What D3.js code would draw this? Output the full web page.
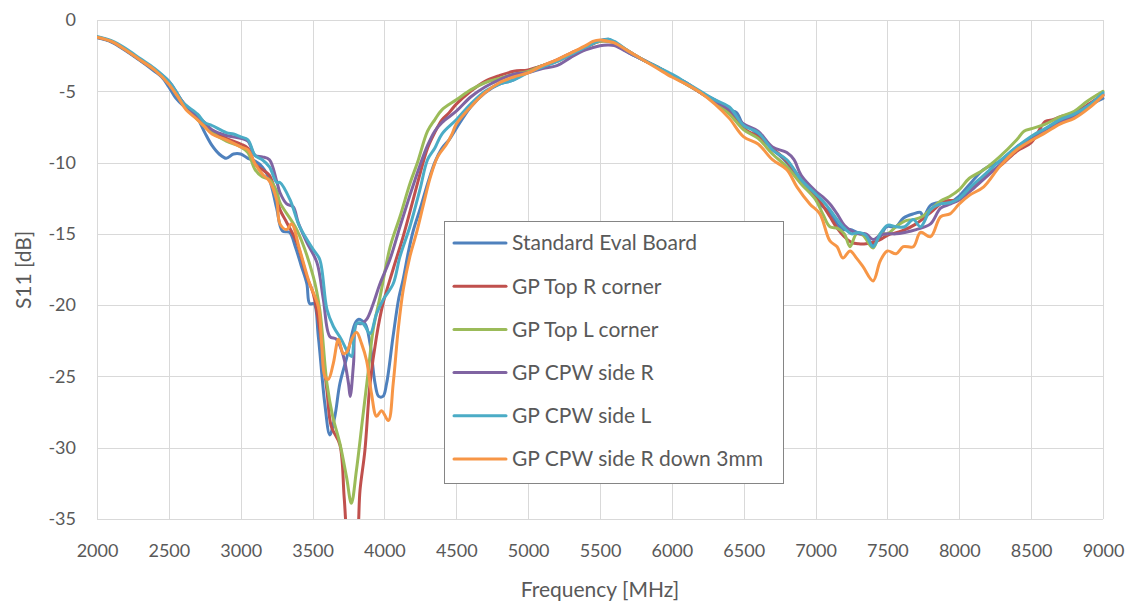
<!DOCTYPE html>
<html>
<head>
<meta charset="utf-8">
<script src="https://cdn.jsdelivr.net/npm/d3@7/dist/d3.min.js"></script>
<style>
html,body{margin:0;padding:0;background:#fff;}
svg{display:block;}
text{font-family:Lato,"Open Sans",sans-serif;fill:#595959;}
</style>
</head>
<body>
<svg id="chart" width="1132" height="608"></svg>
<script>
const seriesNames = ["Standard Eval Board","GP Top R corner","GP Top L corner","GP CPW side R","GP CPW side L","GP CPW side R down 3mm"];
const seriesColors = ["#4F81BD","#C0504D","#9BBB59","#8064A2","#4BACC6","#F79646"];
const xTicks = [2000,2500,3000,3500,4000,4500,5000,5500,6000,6500,7000,7500,8000,8500,9000];
const yTicks = [0,-5,-10,-15,-20,-25,-30,-35];

const standardEval = [[2000,-1.25],[2100,-1.55],[2200,-2.15],[2300,-2.85],[2400,-3.6],[2450,-4.0],[2500,-4.7],[2550,-5.5],[2600,-6.0],[2650,-6.3],[2700,-6.9],[2750,-7.9],[2800,-8.8],[2850,-9.4],[2900,-9.7],[2950,-9.4],[3000,-9.4],[3050,-9.7],[3100,-9.9],[3150,-10.3],[3200,-11.2],[3250,-13.2],[3290,-14.8],[3340,-14.9],[3380,-15.9],[3420,-17.2],[3460,-18.5],[3480,-19.9],[3510,-19.9],[3540,-22.2],[3585,-26.9],[3620,-29.1],[3655,-27.8],[3690,-25.5],[3740,-23.6],[3795,-21.3],[3818,-21.0],[3865,-21.3],[3900,-22.7],[3935,-25.5],[3960,-26.4],[3990,-26.4],[4015,-25.5],[4060,-22.2],[4100,-19.5],[4130,-18.2],[4166,-16.3],[4200,-14.8],[4250,-13.2],[4300,-11.5],[4350,-10.0],[4400,-9.0],[4450,-8.4],[4500,-7.6],[4600,-6.1],[4700,-5.1],[4800,-4.5],[4900,-4.2],[5000,-3.6],[5100,-3.2],[5200,-2.9],[5300,-2.4],[5400,-1.9],[5500,-1.45],[5560,-1.35],[5600,-1.6],[5700,-2.3],[5800,-2.8],[5900,-3.3],[6000,-3.9],[6100,-4.4],[6200,-5.1],[6300,-5.6],[6400,-6.3],[6450,-6.5],[6500,-7.4],[6550,-7.6],[6600,-8.1],[6650,-8.4],[6700,-9.1],[6750,-9.5],[6800,-10.0],[6870,-11.0],[6950,-11.7],[7030,-12.9],[7100,-13.5],[7150,-14.3],[7190,-14.7],[7240,-14.7],[7290,-14.9],[7330,-15.0],[7400,-15.7],[7450,-15.2],[7495,-14.5],[7560,-14.5],[7610,-13.9],[7680,-13.6],[7730,-13.5],[7750,-13.8],[7800,-13.0],[7865,-12.8],[7935,-12.8],[7993,-12.4],[8074,-11.5],[8167,-10.5],[8283,-9.9],[8400,-8.9],[8514,-8.2],[8607,-7.6],[8700,-7.0],[8793,-6.8],[8886,-6.1],[9000,-5.5]];

const gpTopR = [[2000,-1.2],[2100,-1.5],[2200,-2.1],[2300,-2.8],[2400,-3.5],[2500,-4.4],[2600,-5.8],[2700,-6.8],[2800,-7.8],[2900,-8.3],[3000,-8.7],[3050,-9.0],[3100,-10.1],[3150,-10.5],[3200,-10.9],[3250,-12.4],[3273,-13.3],[3320,-14.2],[3390,-15.6],[3460,-18.0],[3505,-19.2],[3550,-21.7],[3600,-26.0],[3630,-28.5],[3690,-29.8],[3720,-33.5],[3745,-36.5],[3780,-37.5],[3810,-36.5],[3830,-33.0],[3864,-30.2],[3900,-25.5],[3945,-22.2],[3990,-19.9],[4060,-17.5],[4130,-15.2],[4200,-12.6],[4250,-10.7],[4300,-9.0],[4350,-7.9],[4400,-7.0],[4450,-6.5],[4500,-5.9],[4600,-5.0],[4700,-4.3],[4800,-3.9],[4900,-3.6],[5000,-3.5],[5100,-3.2],[5200,-2.8],[5300,-2.3],[5400,-1.9],[5500,-1.5],[5560,-1.5],[5600,-1.6],[5700,-2.2],[5800,-2.8],[5900,-3.3],[6000,-3.9],[6100,-4.5],[6200,-5.1],[6300,-5.7],[6400,-6.4],[6500,-7.6],[6600,-8.2],[6700,-9.0],[6800,-9.9],[6900,-11.2],[7000,-12.3],[7050,-13.0],[7100,-13.8],[7150,-14.6],[7200,-15.2],[7250,-15.6],[7300,-15.7],[7350,-15.7],[7400,-15.6],[7450,-15.4],[7500,-15.1],[7600,-14.8],[7700,-14.3],[7800,-13.5],[7900,-12.7],[8000,-12.6],[8100,-11.6],[8200,-10.8],[8300,-10.1],[8400,-9.2],[8500,-8.6],[8600,-7.1],[8650,-7.0],[8700,-6.8],[8800,-6.5],[8900,-5.9],[9000,-5.2]];

const gpTopL = [[2000,-1.2],[2100,-1.5],[2200,-2.1],[2300,-2.8],[2400,-3.5],[2500,-4.4],[2600,-5.9],[2700,-7.0],[2800,-7.9],[2900,-8.5],[3000,-8.9],[3050,-9.3],[3100,-10.5],[3150,-11.0],[3200,-11.2],[3250,-12.0],[3273,-12.8],[3390,-14.7],[3505,-18.0],[3550,-20.3],[3600,-25.5],[3640,-27.8],[3690,-29.7],[3737,-32.1],[3770,-33.9],[3805,-31.6],[3850,-27.8],[3888,-24.6],[3922,-21.7],[3970,-19.4],[4040,-15.9],[4108,-13.8],[4180,-11.4],[4230,-10.0],[4300,-7.8],[4350,-7.0],[4400,-6.3],[4500,-5.6],[4600,-4.9],[4700,-4.4],[4800,-4.1],[4900,-3.8],[5000,-3.6],[5100,-3.2],[5200,-2.9],[5300,-2.4],[5400,-1.9],[5500,-1.5],[5600,-1.6],[5700,-2.2],[5800,-2.8],[5900,-3.3],[6000,-3.9],[6100,-4.5],[6200,-5.1],[6300,-5.8],[6400,-6.6],[6500,-7.7],[6600,-8.3],[6700,-9.4],[6800,-10.3],[6900,-11.5],[7000,-12.6],[7050,-13.6],[7100,-14.5],[7150,-14.6],[7200,-15.0],[7240,-15.9],[7285,-15.0],[7330,-15.1],[7400,-16.0],[7450,-15.0],[7500,-15.0],[7560,-14.5],[7620,-14.1],[7680,-14.0],[7740,-13.8],[7800,-13.3],[7870,-12.7],[7930,-12.4],[8000,-11.9],[8070,-11.1],[8170,-10.5],[8280,-9.6],[8400,-8.4],[8450,-7.8],[8510,-7.6],[8600,-7.3],[8700,-6.8],[8800,-6.4],[8890,-5.7],[9000,-5.0]];

const gpCpwR = [[2000,-1.2],[2100,-1.5],[2200,-2.1],[2300,-2.8],[2400,-3.5],[2500,-4.3],[2600,-5.8],[2700,-6.8],[2750,-7.2],[2800,-7.7],[2900,-8.1],[3000,-8.3],[3050,-8.5],[3100,-9.5],[3150,-9.6],[3200,-9.8],[3250,-11.3],[3273,-12.1],[3320,-12.9],[3365,-13.1],[3400,-14.2],[3460,-15.6],[3530,-17.0],[3575,-19.6],[3620,-22.2],[3667,-22.4],[3715,-23.6],[3750,-25.5],[3762,-26.4],[3785,-24.1],[3806,-21.3],[3840,-21.3],[3876,-21.0],[3922,-19.9],[3969,-18.5],[4038,-16.8],[4108,-14.5],[4177,-12.3],[4247,-10.2],[4300,-8.8],[4350,-7.8],[4400,-7.2],[4500,-6.4],[4600,-5.4],[4700,-4.7],[4800,-4.2],[4900,-3.8],[5000,-3.7],[5100,-3.4],[5200,-3.2],[5300,-2.6],[5400,-2.1],[5500,-1.8],[5560,-1.75],[5600,-1.8],[5700,-2.3],[5800,-2.8],[5900,-3.3],[6000,-3.9],[6100,-4.4],[6200,-5.1],[6300,-5.7],[6400,-6.3],[6500,-7.3],[6600,-7.8],[6700,-8.9],[6800,-9.3],[6850,-9.8],[6900,-10.9],[7000,-12.0],[7050,-12.4],[7100,-12.9],[7150,-13.6],[7200,-14.4],[7250,-14.8],[7300,-15.0],[7350,-15.0],[7400,-15.4],[7450,-15.1],[7500,-15.0],[7560,-15.0],[7620,-14.9],[7700,-14.7],[7800,-14.3],[7870,-13.2],[7940,-12.9],[8000,-12.6],[8100,-11.8],[8200,-10.9],[8300,-10.0],[8400,-9.0],[8500,-8.4],[8600,-7.7],[8700,-7.2],[8800,-6.7],[8900,-6.0],[9000,-5.3]];

const gpCpwL = [[2000,-1.15],[2100,-1.45],[2200,-2.0],[2300,-2.7],[2400,-3.4],[2500,-4.3],[2550,-5.0],[2600,-5.8],[2700,-6.6],[2750,-7.2],[2800,-7.4],[2900,-7.9],[2950,-8.0],[3000,-8.2],[3050,-8.4],[3100,-9.5],[3150,-9.8],[3200,-10.3],[3250,-11.4],[3273,-11.4],[3343,-12.6],[3410,-14.5],[3505,-16.1],[3550,-16.8],[3600,-20.3],[3645,-21.5],[3700,-22.4],[3750,-23.4],[3772,-23.6],[3806,-21.3],[3850,-21.3],[3900,-22.0],[3945,-20.6],[3992,-19.6],[4061,-18.5],[4108,-16.6],[4177,-14.5],[4247,-11.9],[4300,-9.8],[4350,-9.0],[4400,-8.0],[4500,-7.0],[4600,-5.9],[4700,-5.0],[4800,-4.5],[4900,-4.2],[5000,-3.7],[5100,-3.3],[5200,-2.9],[5300,-2.4],[5400,-1.9],[5500,-1.45],[5560,-1.35],[5600,-1.5],[5700,-2.2],[5800,-2.8],[5900,-3.3],[6000,-3.8],[6100,-4.4],[6200,-5.0],[6300,-5.6],[6400,-6.1],[6500,-7.4],[6600,-7.9],[6700,-9.1],[6800,-9.8],[6900,-11.2],[7000,-12.2],[7050,-12.7],[7100,-13.3],[7150,-14.0],[7200,-14.6],[7250,-15.0],[7300,-14.9],[7350,-15.1],[7400,-15.9],[7450,-15.0],[7500,-14.4],[7560,-14.5],[7620,-14.5],[7680,-14.0],[7730,-14.5],[7800,-13.3],[7870,-12.9],[7940,-12.8],[8000,-12.5],[8080,-11.7],[8170,-10.9],[8280,-9.9],[8400,-8.9],[8510,-8.1],[8600,-7.6],[8700,-7.0],[8800,-6.6],[8900,-6.0],[9000,-5.1]];

const gpCpwRDown = [[2000,-1.2],[2100,-1.5],[2200,-2.1],[2300,-2.8],[2400,-3.5],[2500,-4.5],[2570,-5.5],[2620,-6.3],[2700,-7.0],[2750,-7.5],[2800,-8.0],[2900,-8.4],[3000,-8.9],[3050,-9.1],[3100,-10.1],[3150,-10.8],[3200,-11.3],[3250,-12.6],[3273,-14.3],[3320,-14.7],[3354,-14.3],[3410,-16.1],[3480,-18.5],[3540,-20.1],[3563,-22.7],[3586,-25.0],[3610,-25.2],[3644,-24.1],[3680,-22.4],[3713,-23.4],[3737,-23.3],[3772,-22.4],[3806,-21.9],[3841,-22.7],[3876,-23.9],[3910,-26.2],[3945,-27.8],[3980,-27.4],[4027,-28.1],[4061,-25.5],[4096,-21.7],[4131,-18.9],[4177,-16.6],[4224,-14.9],[4270,-13.0],[4320,-11.0],[4370,-9.6],[4433,-8.7],[4470,-8.0],[4500,-7.3],[4600,-6.1],[4700,-5.1],[4800,-4.4],[4900,-4.0],[5000,-3.7],[5100,-3.2],[5200,-2.8],[5300,-2.3],[5400,-1.8],[5450,-1.5],[5500,-1.4],[5560,-1.5],[5600,-1.6],[5700,-2.2],[5800,-2.8],[5900,-3.4],[6000,-4.0],[6100,-4.5],[6200,-5.1],[6300,-5.9],[6400,-6.9],[6500,-8.2],[6600,-8.7],[6700,-9.8],[6800,-10.5],[6870,-11.7],[6960,-12.9],[7030,-13.6],[7100,-15.5],[7150,-15.9],[7190,-16.7],[7240,-16.2],[7285,-16.7],[7330,-17.3],[7400,-18.3],[7450,-16.9],[7500,-16.2],[7560,-16.4],[7610,-15.9],[7680,-15.9],[7730,-14.9],[7800,-15.2],[7870,-13.8],[7935,-13.6],[8000,-12.9],[8070,-12.3],[8170,-11.7],[8280,-10.3],[8400,-9.1],[8510,-8.4],[8600,-7.9],[8700,-7.3],[8800,-6.9],[8900,-6.2],[9000,-5.3]];

const allSeries = [standardEval, gpTopR, gpTopL, gpCpwR, gpCpwL, gpCpwRDown];

const svg = d3.select("#chart");
const plotLeft = 97, plotRight = 1103, plotTop = 20, plotBottom = 519;
const x = d3.scaleLinear().domain([2000, 9000]).range([plotLeft, plotRight]);
const y = d3.scaleLinear().domain([-35, 0]).range([plotBottom, plotTop]);

// grid
const grid = svg.append("g");
grid.selectAll("line.v").data(xTicks).join("line")
  .attr("x1", d => Math.round(x(d)) + 0.5).attr("x2", d => Math.round(x(d)) + 0.5)
  .attr("y1", plotTop).attr("y2", plotBottom)
  .attr("stroke", "#d9d9d9").attr("stroke-width", 1);
grid.selectAll("line.h").data(yTicks).join("line")
  .attr("x1", plotLeft).attr("x2", plotRight)
  .attr("y1", d => Math.round(y(d)) + 0.5).attr("y2", d => Math.round(y(d)) + 0.5)
  .attr("stroke", "#d9d9d9").attr("stroke-width", 1);

// axes labels via d3 axes
const xAxis = d3.axisBottom(x).tickValues(xTicks).tickSize(0).tickPadding(0).tickFormat(d3.format("d"));
const gx = svg.append("g").attr("transform", `translate(0,${plotBottom + 32})`).call(xAxis);
gx.select(".domain").remove();
gx.selectAll("text").attr("font-size", 18).attr("fill", "#595959").attr("dy", "0.35em")
  .style("font-family", "Lato, 'Open Sans', sans-serif");

const yAxis = d3.axisLeft(y).tickValues(yTicks).tickSize(0).tickPadding(21).tickFormat(d => String(d));
const gy = svg.append("g").attr("transform", `translate(${plotLeft},0)`).call(yAxis);
gy.select(".domain").remove();
gy.selectAll("text").attr("font-size", 18).attr("fill", "#595959")
  .style("font-family", "Lato, 'Open Sans', sans-serif");

// titles
svg.append("text").attr("x", 600).attr("y", 597).attr("text-anchor", "middle")
  .attr("font-size", 21).text("Frequency [MHz]");
svg.append("text").attr("transform", "translate(24,270) rotate(-90)").attr("text-anchor", "middle")
  .attr("dy", "0.35em").attr("font-size", 21).text("S11 [dB]");

// clip
svg.append("clipPath").attr("id", "plotclip").append("rect")
  .attr("x", plotLeft).attr("y", plotTop - 5).attr("width", plotRight - plotLeft + 5).attr("height", plotBottom - plotTop + 5);

const line = d3.line().x(d => x(d[0])).y(d => y(d[1])).curve(d3.curveCatmullRom.alpha(0.5));
const lines = svg.append("g").attr("clip-path", "url(#plotclip)");
allSeries.forEach((s, i) => {
  lines.append("path").datum(s).attr("d", line)
    .attr("fill", "none").attr("stroke", seriesColors[i]).attr("stroke-width", 3)
    .attr("stroke-linejoin", "round").attr("stroke-linecap", "round");
});

// legend
const lg = svg.append("g");
lg.append("rect").attr("x", 444.5).attr("y", 221.5).attr("width", 339).attr("height", 262)
  .attr("fill", "#fff").attr("stroke", "#858585").attr("stroke-width", 1);
seriesNames.forEach((n, i) => {
  const yy = 243 + i * 43.2;
  lg.append("line").attr("x1", 454).attr("x2", 506).attr("y1", yy).attr("y2", yy)
    .attr("stroke", seriesColors[i]).attr("stroke-width", 3).attr("stroke-linecap", "round");
  lg.append("text").attr("x", 512).attr("y", yy).attr("dy", "0.35em").attr("font-size", 21).text(n);
});
</script>
</body>
</html>
